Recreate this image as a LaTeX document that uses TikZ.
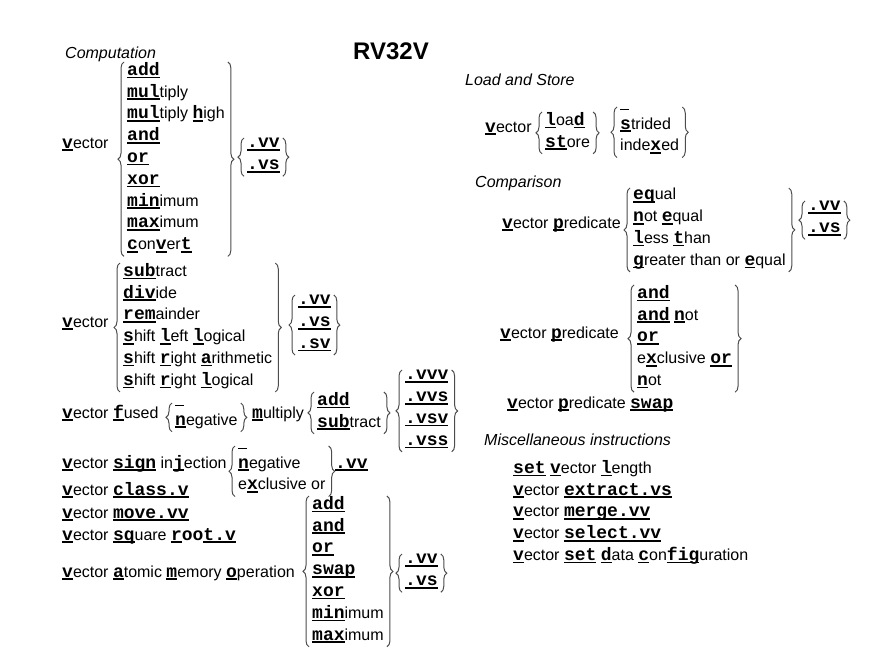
\documentclass[tikz,border=0pt]{standalone}
\usepackage{fontspec}
\setmainfont{Liberation Sans}
\setmonofont{Liberation Mono}
\usetikzlibrary{decorations.pathreplacing}

% opcode letters: bold mono, underlined
\newcommand{\kw}[1]{{\ttfamily\bfseries\fontsize{18}{21.8}\selectfont #1}}
\newcommand{\ulk}[1]{\setbox0\hbox{#1}\rlap{\rule[-3pt]{\wd0}{1.6pt}}\box0\relax}
\newcommand{\opc}[1]{\ulk{\kw{#1}}}
\newcommand{\blank}{\ulk{\hspace{9pt}}}
% braces around a column node
\newcommand{\braceL}[1]{\draw[brc] ([xshift=-3pt]#1.south west) -- ([xshift=-3pt]#1.north west);}
\newcommand{\braceR}[1]{\draw[brc] ([xshift=3pt]#1.north east) -- ([xshift=3pt]#1.south east);}

\tikzset{
  lbl/.style={anchor=base west, inner sep=0pt, font=\fontsize{16}{21.8}\selectfont},
  head/.style={lbl, font=\fontsize{16}{21.8}\selectfont\itshape},
  colbase/.style={anchor=north west, inner sep=0pt, align=left,
    font=\fontsize{16}{21.8}\selectfont, execute at end node=\strut},
  col/.style={colbase, yshift=12pt, execute at begin node=\strut},
  colb/.style={colbase},
  brc/.style={draw=black!70, line width=1pt, decorate, decoration={brace, amplitude=6pt}},
}

\begin{document}
\begin{tikzpicture}[x=1pt,y=-1pt]
\useasboundingbox (0,0) rectangle (885,650);

\node (title) at (391,51.5) {\fontsize{24}{28}\selectfont\bfseries RV32V};

% Computation
\node[head] (hcomp) at (65,59) {Computation};
\node[lbl] (v1) at (62,148) {\opc{v}ector};
\node[col] (ops1) at (127,74) {\opc{add}\\\opc{mul}tiply\\\opc{mul}tiply \opc{h}igh\\\opc{and}\\\opc{or}\\\opc{xor}\\\opc{min}imum\\\opc{max}imum\\\opc{c}on\opc{v}er\opc{t}};
\node[col] (sfx1) at (247,150) {\opc{.vv}\\\opc{.vs}};
\braceL{ops1} \braceR{ops1} \braceL{sfx1} \braceR{sfx1}

\node[lbl] (v2) at (62,327) {\opc{v}ector};
\node[col] (ops2) at (123,275) {\opc{sub}tract\\\opc{div}ide\\\opc{rem}ainder\\\opc{s}hift \opc{l}eft \opc{l}ogical\\\opc{s}hift \opc{r}ight \opc{a}rithmetic\\\opc{s}hift \opc{r}ight \opc{l}ogical};
\node[col] (sfx2) at (298,307) {\opc{.vv}\\\opc{.vs}\\\opc{.sv}};
\braceL{ops2} \braceR{ops2} \braceL{sfx2} \braceR{sfx2}

% fused multiply
\node[lbl] (v3) at (62,418) {\opc{v}ector \opc{f}used};
\node[colb] (neg3) at (175,403) {\blank\\\opc{n}egative};
\node[lbl] (mul3) at (252,418) {\opc{m}ultiply};
\node[col] (as3) at (317,404) {\opc{add}\\\opc{sub}tract};
\node[col] (sfx3) at (405,382) {\opc{.vvv}\\\opc{.vvs}\\\opc{.vsv}\\\opc{.vss}};
\braceL{neg3} \braceR{neg3} \braceL{as3} \braceR{as3} \braceL{sfx3} \braceR{sfx3}

% sign injection
\node[lbl] (v4) at (62,468) {\opc{v}ector \opc{sign} in\opc{j}ection};
\node[colb] (neg4) at (238,446) {\blank\\\opc{n}egative\\e\opc{x}clusive or};
\node[lbl] (sfx4) at (335,468) {\opc{.vv}};
\braceL{neg4} \braceR{neg4}

\node[lbl] (v5) at (62,495) {\opc{v}ector \opc{class.v}};
\node[lbl] (v6) at (62,518) {\opc{v}ector \opc{move.vv}};
\node[lbl] (v7) at (62,540) {\opc{v}ector \opc{sq}uare \opc{r}\kw{oo}\opc{t.v}};

% atomic memory operation
\node[lbl] (v8) at (62,577) {\opc{v}ector \opc{a}tomic \opc{m}emory \opc{o}peration};
\node[col] (ops8) at (312,508) {\opc{add}\\\opc{and}\\\opc{or}\\\opc{swap}\\\opc{xor}\\\opc{min}imum\\\opc{max}imum};
\node[col] (sfx8) at (405,566) {\opc{.vv}\\\opc{.vs}};
\braceL{ops8} \braceR{ops8} \braceL{sfx8} \braceR{sfx8}

% Load and Store
\node[head] (hls) at (465,86) {Load and Store};
\node[lbl] (v9) at (485,132) {\opc{v}ector};
\node[col] (ls9) at (545,124) {\opc{l}oa\opc{d}\\\opc{st}ore};
\node[colb] (str9) at (620,107) {\blank\\\opc{s}trided\\inde\opc{x}ed};
\braceL{ls9} \braceR{ls9} \braceL{str9} \braceR{str9}

% Comparison
\node[head] (hcmp) at (475,187) {Comparison};
\node[lbl] (v10) at (502,228) {\opc{v}ector \opc{p}redicate};
\node[col] (cmp10) at (633,200) {\opc{eq}ual\\\opc{n}ot \opc{e}qual\\\opc{l}ess \opc{t}han\\\opc{g}reater than or \opc{e}qual};
\node[col] (sfx10) at (808,213) {\opc{.vv}\\\opc{.vs}};
\braceL{cmp10} \braceR{cmp10} \braceL{sfx10} \braceR{sfx10}

\node[lbl] (v11) at (500,338) {\opc{v}ector \opc{p}redicate};
\node[col] (log11) at (637,297) {\opc{and}\\\opc{and} \opc{n}ot\\\opc{or}\\e\opc{x}clusive \opc{or}\\\opc{n}ot};
\braceL{log11} \braceR{log11}
\node[lbl] (v12) at (507,408) {\opc{v}ector \opc{p}redicate \opc{swap}};

% Miscellaneous
\node[head] (hmisc) at (484,445) {Miscellaneous instructions};
\node[col] (misc) at (513,472) {\opc{set} \opc{v}ector \opc{l}ength\\\opc{v}ector \opc{extract.vs}\\\opc{v}ector \opc{merge.vv}\\\opc{v}ector \opc{select.vv}\\\opc{v}ector \opc{set} \opc{d}ata \opc{c}on\opc{fig}uration};
\end{tikzpicture}
\end{document}
